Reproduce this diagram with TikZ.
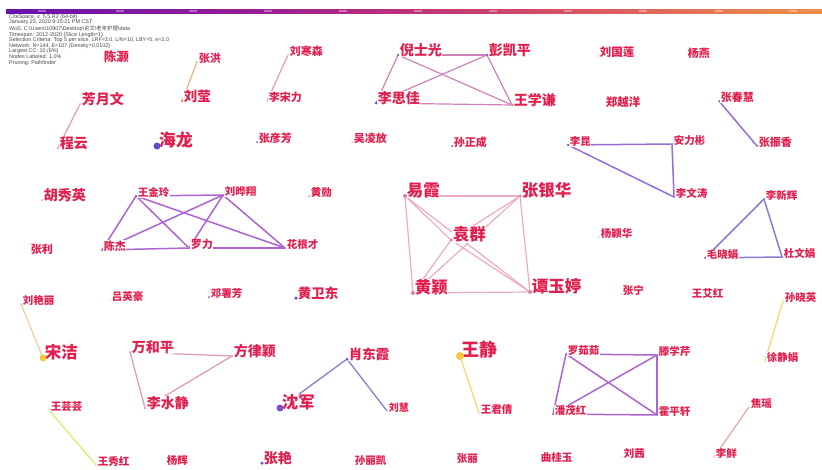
\documentclass[tikz,border=0pt]{standalone}
\usepackage{fontspec}
\setmainfont{Liberation Sans}
\newfontfamily\cjk{Noto Sans CJK SC}
\usetikzlibrary{backgrounds}
\definecolor{labelred}{RGB}{226,30,78}
\definecolor{infogray}{RGB}{70,70,70}
\definecolor{cbA}{RGB}{35,20,125}
\definecolor{cbB}{RGB}{70,20,160}
\definecolor{cbC}{RGB}{110,20,170}
\definecolor{cbD}{RGB}{150,30,150}
\definecolor{cbE}{RGB}{190,50,120}
\definecolor{cbF}{RGB}{215,85,100}
\definecolor{cbG}{RGB}{235,125,80}
\definecolor{cbH}{RGB}{245,165,60}
\definecolor{cbI}{RGB}{250,215,50}
\pgfdeclarehorizontalshading{cbar}{100bp}{color(0bp)=(cbA); color(14bp)=(cbB); color(27bp)=(cbC); color(40bp)=(cbD); color(50bp)=(cbE); color(60bp)=(cbF); color(70bp)=(cbG); color(82bp)=(cbH); color(100bp)=(cbI)}
\definecolor{pk}{RGB}{222,125,160}
\definecolor{lp}{RGB}{232,165,190}
\definecolor{pu}{RGB}{130,75,200}
\definecolor{bl}{RGB}{95,80,200}
\definecolor{ye}{RGB}{245,200,60}
\definecolor{orc}{RGB}{240,160,95}
\definecolor{eOr}{RGB}{242,178,115}
\definecolor{ePk}{RGB}{218,160,182}
\definecolor{eMv}{RGB}{205,130,185}
\definecolor{ePu}{RGB}{150,110,215}
\definecolor{eVi}{RGB}{172,100,210}
\definecolor{eRo}{RGB}{236,172,188}
\definecolor{eBl}{RGB}{140,122,214}
\definecolor{eYe}{RGB}{245,215,95}
\definecolor{eYg}{RGB}{228,234,105}
\definecolor{eLo}{RGB}{245,205,155}
\definecolor{eTa}{RGB}{226,168,160}
\newcommand\lblfont[1]{\cjk\bfseries\fontsize{#1pt}{#1pt}\selectfont}
\tikzset{
  lbl/.style={anchor=base west, inner sep=0.4pt, fill=white, text=labelred},
  dotn/.style={circle, inner sep=0pt, draw=none},
  edge/.style={line width=1.2pt, line cap=round},
  infotext/.style={anchor=north west, align=left, inner sep=0pt, text=infogray,
    font=\fontsize{5.4pt}{5.6pt}\selectfont},
}
% name, x, y, size, dot colour, dot diameter, text
\newcommand\au[7]{%
  \node[lbl, font=\lblfont{#4}] (#1-l) at ({#2+1.2},{#3+0.3}) {#7};
  \node[dotn, fill=#5, minimum size=#6pt] (#1) at (#2,#3) {};
}
\begin{document}
\begin{tikzpicture}[x=1pt,y=-1pt]
\useasboundingbox (0,0) rectangle (822,469);
% colour bar
\shade[shading=cbar] (6,9) rectangle (822,13);
\foreach \t in {42,120,193,268,343,418,493,568,643,719,793}
  \fill[white, opacity=0.35] (\t-4,9.6) rectangle (\t+4,12.4);
\node[infotext] (info) at (9,14) {CiteSpace, v. 5.5.R2 (64-bit)\\
January 23, 2020 9:15:21 PM CST\\
WoS: C:\textbackslash Users\textbackslash 10907\textbackslash Desktop\textbackslash{\cjk 论文}\textbackslash{\cjk 老年护理}\textbackslash data\\
Timespan: 2012-2020 (Slice Length=1)\\
Selection Criteria: Top 5 per slice, LRF=3.0, L/N=10, LBY=5, e=2.0\\
Network: N=144, E=107 (Density=0.0102)\\
Largest CC: 10 (6\%)\\
Nodes Labeled: 1.0\%\\
Pruning: Pathfinder};
% authors
\au{chenhao}{102}{61}{12.5}{white}{0}{陈灏}
\au{zhanghong}{197}{62}{11}{orc}{2}{张洪}
\au{liuying}{182}{101}{13.5}{orc}{3}{刘莹}
\au{fangyuewen}{80}{104}{14}{lp}{2}{芳月文}
\au{chengyun}{58}{148}{14}{lp}{3}{程云}
\au{hailong}{157}{146}{17}{bl}{7}{海龙}
\au{zhangyanfang}{257}{142}{11}{pu}{2}{张彦芳}
\au{wulingfang}{352}{142}{11}{pk}{1.5}{吴凌放}
\au{sunzhengcheng}{452}{146}{11}{bl}{2}{孙正成}
\au{liuhansen}{288}{55}{11}{lp}{1.5}{刘寒森}
\au{lisongli}{267}{101}{11}{lp}{1.5}{李宋力}
\au{nishiguang}{398}{55}{14}{pu}{2.5}{倪士光}
\au{pengkaiping}{487}{55}{14}{pu}{2.5}{彭凯平}
\au{lisijia}{376}{103}{14}{pu}{3}{李思佳}
\au{wangxueqian}{512}{105}{14}{pk}{3}{王学谦}
\au{liuguolian}{598}{56}{11.5}{lp}{1.5}{刘国莲}
\au{yangyan}{686}{57}{11}{white}{0}{杨燕}
\au{zhengyueyang}{604}{106}{11.5}{white}{0}{郑越洋}
\au{zhangchunhui}{719}{101}{11}{pu}{2}{张春慧}
\au{zhangzhenxiang}{757}{146}{11}{pu}{2}{张振香}
\au{likun}{568}{145}{10.5}{pu}{2.5}{李昆}
\au{anlibin}{672}{144}{10.5}{pu}{2}{安力彬}
\au{liwentao}{674}{197}{10.5}{pu}{2}{李文涛}
\au{huxiuying}{42}{200}{14}{lp}{2}{胡秀英}
\au{wangjinling}{136}{196}{10.5}{pu}{2.5}{王金玲}
\au{liuyexiang}{223}{195}{10.5}{pu}{2}{刘晔翔}
\au{huangxun}{309}{196}{10.5}{pu}{1.5}{黄勋}
\au{zhangli}{29}{253}{11}{white}{0}{张利}
\au{chenjie}{102}{250}{11}{pu}{2}{陈杰}
\au{luoli}{189}{248}{11}{pu}{2}{罗力}
\au{huagencai}{285}{248}{10.5}{pu}{2}{花根才}
\au{yixia}{405}{196}{16.5}{pk}{4}{易霞}
\au{zhangyinhua}{520}{196}{16.5}{pk}{3.5}{张银华}
\au{yuanqun}{451}{240}{16.5}{pk}{3.5}{袁群}
\au{huangying}{413}{293}{16.5}{pk}{4}{黄颖}
\au{tanyuting}{530}{292}{16.5}{pk}{4}{谭玉婷}
\au{yangyinghua}{599}{237}{10.5}{lp}{1.5}{杨颖华}
\au{zhangning}{621}{294}{10.5}{lp}{1.5}{张宁}
\au{wangaihong}{690}{297}{10.5}{white}{0}{王艾红}
\au{lixinhui}{764}{199}{10.5}{bl}{2}{李新辉}
\au{maoxiaojuan}{705}{258}{10.5}{bl}{2}{毛晓娟}
\au{duwenjuan}{782}{257}{10.5}{bl}{2}{杜文娟}
\au{liuyanli}{21}{304}{10.5}{orc}{1.5}{刘艳丽}
\au{lvyinghao}{110}{300}{10.5}{ye}{1.5}{吕英豪}
\au{dengshufang}{209}{297}{10.5}{pu}{2}{邓署芳}
\au{huangweidong}{296}{298}{13.5}{bl}{3.5}{黄卫东}
\au{songjie}{43}{358}{16.5}{ye}{7}{宋洁}
\au{wanheping}{130}{352}{14}{lp}{2.5}{万和平}
\au{fanglvying}{232}{356}{14}{lp}{2.5}{方律颖}
\au{lishuijing}{145}{408}{14}{lp}{3}{李水静}
\au{wangyunyun}{49}{410}{10.5}{white}{0}{王芸芸}
\au{wangxiuhong}{96}{465}{10.5}{ye}{1.5}{王秀红}
\au{yanghui}{165}{464}{10.5}{white}{0}{杨辉}
\au{zhangyan}{262}{463}{14}{pu}{3.5}{张艳}
\au{shenjun}{280}{408}{16.5}{pu}{7}{沈军}
\au{xiaodongxia}{347}{359}{13.5}{pu}{3}{肖东霞}
\au{liuhui}{387}{411}{10}{lp}{1.5}{刘慧}
\au{sunlikai}{353}{464}{10.5}{white}{0}{孙丽凯}
\au{wangjing}{460}{356}{18}{ye}{8}{王静}
\au{wangjunqian}{479}{413}{10.5}{ye}{1.5}{王君倩}
\au{zhangli2}{455}{462}{10.5}{white}{0}{张丽}
\au{quguiyu}{539}{461}{10.5}{white}{0}{曲桂玉}
\au{liuqian}{622}{457}{10.5}{lp}{1.5}{刘茜}
\au{luoruru}{566}{354}{10.5}{pu}{2}{罗茹茹}
\au{tengxueqin}{657}{355}{10.5}{pu}{2}{滕学芹}
\au{panmaohong}{553}{414}{10.5}{pu}{2}{潘茂红}
\au{cuipingxuan}{657}{415}{10.5}{pu}{2}{霍平轩}
\au{sunxiaoying}{783}{301}{10.5}{ye}{1.5}{孙晓英}
\au{xujingjuan}{765}{361}{10.5}{ye}{1.5}{徐静娟}
\au{jiaoyao}{749}{407}{10.5}{orc}{1.5}{焦瑶}
\au{lixian}{714}{457}{10.5}{lp}{1.5}{李鲜}
% edges
\begin{pgfonlayer}{background}
\fill[white] (0,0) rectangle (822,469);
\draw[edge, eOr] (zhanghong) -- (liuying);
\draw[edge, ePk] (fangyuewen) -- (chengyun);
\draw[edge, ePk] (liuhansen) -- (lisongli);
\draw[edge, eMv] (nishiguang) -- (pengkaiping);
\draw[edge, eMv] (nishiguang) -- (lisijia);
\draw[edge, eMv] (nishiguang) -- (wangxueqian);
\draw[edge, eMv] (pengkaiping) -- (lisijia);
\draw[edge, eMv] (pengkaiping) -- (wangxueqian);
\draw[edge, eMv] (lisijia) -- (wangxueqian);
\draw[edge, ePu, line width=1.5pt] (zhangchunhui) -- (zhangzhenxiang);
\draw[edge, ePu, line width=1.5pt] (likun) -- (anlibin);
\draw[edge, ePu, line width=1.5pt] (likun) -- (liwentao);
\draw[edge, ePu, line width=1.5pt] (anlibin) -- (liwentao);
\draw[edge, eVi, line width=1.5pt] (wangjinling) -- (liuyexiang);
\draw[edge, eVi, line width=1.5pt] (wangjinling) -- (chenjie);
\draw[edge, eVi, line width=1.5pt] (wangjinling) -- (luoli);
\draw[edge, eVi, line width=1.5pt] (wangjinling) -- (huagencai);
\draw[edge, eVi, line width=1.5pt] (liuyexiang) -- (chenjie);
\draw[edge, eVi, line width=1.5pt] (liuyexiang) -- (luoli);
\draw[edge, eVi, line width=1.5pt] (liuyexiang) -- (huagencai);
\draw[edge, eVi, line width=1.5pt] (chenjie) -- (luoli);
\draw[edge, eVi, line width=1.5pt] (luoli) -- (huagencai);
\draw[edge, eRo] (yixia) -- (zhangyinhua);
\draw[edge, eRo] (yixia) -- (yuanqun);
\draw[edge, eRo] (yixia) -- (huangying);
\draw[edge, eRo] (yixia) -- (tanyuting);
\draw[edge, eRo] (zhangyinhua) -- (yuanqun);
\draw[edge, eRo] (zhangyinhua) -- (huangying);
\draw[edge, eRo] (zhangyinhua) -- (tanyuting);
\draw[edge, eRo] (yuanqun) -- (huangying);
\draw[edge, eRo] (yuanqun) -- (tanyuting);
\draw[edge, eRo] (huangying) -- (tanyuting);
\draw[edge, eBl, line width=1.5pt] (lixinhui) -- (maoxiaojuan);
\draw[edge, eBl, line width=1.5pt] (lixinhui) -- (duwenjuan);
\draw[edge, eBl, line width=1.5pt] (maoxiaojuan) -- (duwenjuan);
\draw[edge, eLo] (liuyanli) -- (songjie);
\draw[edge, ePk, line width=1.3pt] (wanheping) -- (fanglvying);
\draw[edge, ePk, line width=1.3pt] (wanheping) -- (lishuijing);
\draw[edge, ePk, line width=1.3pt] (fanglvying) -- (lishuijing);
\draw[edge, eYg, line width=1.3pt] (wangyunyun) -- (wangxiuhong);
\draw[edge, eBl, line width=1.3pt] (shenjun) -- (xiaodongxia);
\draw[edge, eBl, line width=1.3pt] (xiaodongxia) -- (liuhui);
\draw[edge, eYe] (wangjing) -- (wangjunqian);
\draw[edge, eVi, line width=1.5pt] (luoruru) -- (tengxueqin);
\draw[edge, eVi, line width=1.5pt] (luoruru) -- (panmaohong);
\draw[edge, eVi, line width=1.5pt] (luoruru) -- (cuipingxuan);
\draw[edge, eVi, line width=1.5pt] (tengxueqin) -- (panmaohong);
\draw[edge, eVi, line width=1.5pt] (tengxueqin) -- (cuipingxuan);
\draw[edge, eVi, line width=1.5pt] (panmaohong) -- (cuipingxuan);
\draw[edge, eYe] (sunxiaoying) -- (xujingjuan);
\draw[edge, eTa] (jiaoyao) -- (lixian);
\end{pgfonlayer}
\end{tikzpicture}
\end{document}
